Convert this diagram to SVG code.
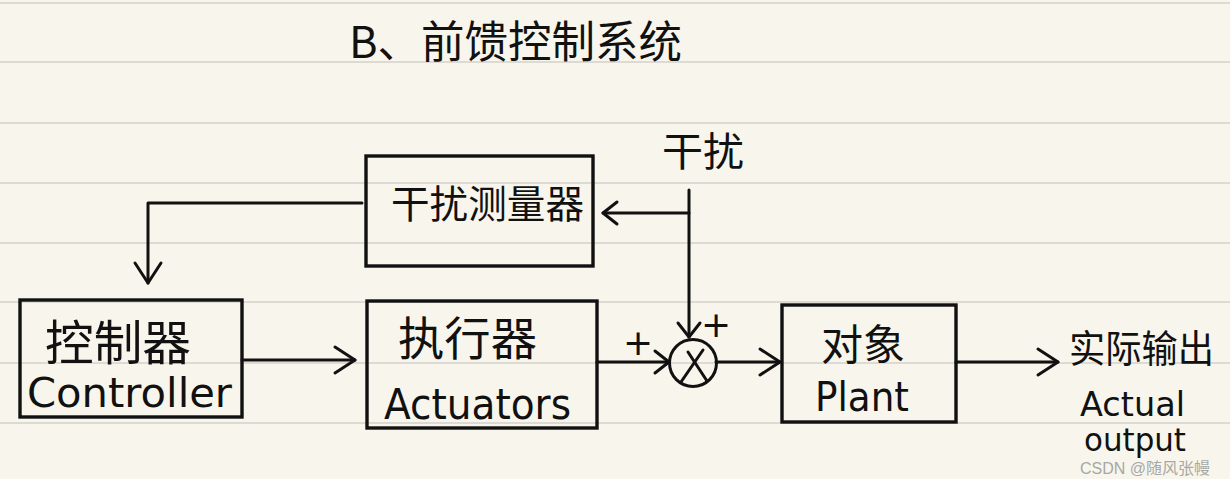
<svg xmlns="http://www.w3.org/2000/svg" width="1230" height="479" viewBox="0 0 1230 479">
  <defs>
    <style>
      .bg { fill: #f8f6ec; }
      .rule { stroke: #dcdad2; stroke-width: 2; }
      .box { fill: none; stroke: #111; stroke-width: 3.4; }
      .wire { fill: none; stroke: #111; stroke-width: 3; stroke-linecap: round; stroke-linejoin: round; }
      .zh { font-family: "Noto Sans CJK SC", "Noto Sans", sans-serif; fill: #111; }
      .en { font-family: "DejaVu Sans", "Liberation Sans", sans-serif; fill: #111; }
      .wm { font-family: "Liberation Sans", "Noto Sans CJK SC", sans-serif; fill: #9a9a9a; font-size: 16px; opacity: 0.85; }
    </style>
    <marker id="arr" markerUnits="userSpaceOnUse" markerWidth="28" markerHeight="32" viewBox="-24 -16 28 32" refX="0" refY="0" orient="auto">
      <path d="M-20,-13 L0,0 L-20,13" fill="none" stroke="#111" stroke-width="3" stroke-linecap="round" stroke-linejoin="round"/>
    </marker>
    <marker id="arrS" markerUnits="userSpaceOnUse" markerWidth="24" markerHeight="28" viewBox="-20 -14 24 28" refX="0" refY="0" orient="auto">
      <path d="M-14,-11 L0,0 L-14,11" fill="none" stroke="#111" stroke-width="3" stroke-linecap="round" stroke-linejoin="round"/>
    </marker>
  </defs>

  <g id="paper">
    <rect class="bg" x="0" y="0" width="1230" height="479"/>
    <line class="rule" x1="0" y1="3" x2="1230" y2="3"/>
    <line class="rule" x1="0" y1="62" x2="1230" y2="62"/>
    <line class="rule" x1="0" y1="123" x2="1230" y2="123"/>
    <line class="rule" x1="0" y1="183" x2="1230" y2="183"/>
    <line class="rule" x1="0" y1="243" x2="1230" y2="243"/>
    <line class="rule" x1="0" y1="302" x2="1230" y2="302"/>
    <line class="rule" x1="0" y1="363" x2="1230" y2="363"/>
    <line class="rule" x1="0" y1="423" x2="1230" y2="423"/>
  </g>

  <g id="title">
    <text class="zh" x="349" y="58" font-size="44" textLength="333" lengthAdjust="spacingAndGlyphs">B、前馈控制系统</text>
  </g>

  <g id="disturbance-label">
    <text class="zh" x="662" y="166" font-size="40" textLength="82" lengthAdjust="spacingAndGlyphs">干扰</text>
  </g>

  <g id="node-measurer">
    <rect class="box" x="366" y="156" width="227" height="110"/>
    <text class="zh" x="391" y="218" font-size="39" textLength="193" lengthAdjust="spacingAndGlyphs">干扰测量器</text>
  </g>

  <g id="node-controller">
    <rect class="box" x="20" y="300" width="222" height="117"/>
    <text class="zh" x="45" y="360" font-size="48" textLength="146" lengthAdjust="spacingAndGlyphs">控制器</text>
    <text class="en" x="27" y="407" font-size="40" textLength="205" lengthAdjust="spacingAndGlyphs">Controller</text>
  </g>

  <g id="node-actuator">
    <rect class="box" x="367" y="301" width="230" height="127"/>
    <text class="zh" x="398" y="355" font-size="46" textLength="139" lengthAdjust="spacingAndGlyphs">执行器</text>
    <text class="en" x="384" y="419" font-size="42" textLength="187" lengthAdjust="spacingAndGlyphs">Actuators</text>
  </g>

  <g id="node-sum">
    <circle cx="693" cy="363" r="23.5" fill="none" stroke="#111" stroke-width="3"/>
    <line class="wire" x1="681" y1="382" x2="703" y2="350"/>
    <line class="wire" x1="688" y1="352" x2="707" y2="381"/>
    <text class="en" x="638" y="355" font-size="36" text-anchor="middle">+</text>
    <text class="en" x="716" y="337" font-size="36" text-anchor="middle">+</text>
  </g>

  <g id="node-plant">
    <rect class="box" x="782" y="305" width="174" height="117"/>
    <text class="zh" x="821" y="360" font-size="42" textLength="84" lengthAdjust="spacingAndGlyphs">对象</text>
    <text class="en" x="815" y="411" font-size="40" textLength="94" lengthAdjust="spacingAndGlyphs">Plant</text>
  </g>

  <g id="node-output">
    <text class="zh" x="1069" y="362" font-size="38" textLength="145" lengthAdjust="spacingAndGlyphs">实际输出</text>
    <text class="en" x="1080" y="416" font-size="34" textLength="105" lengthAdjust="spacingAndGlyphs">Actual</text>
    <text class="en" x="1084" y="451" font-size="32" textLength="102" lengthAdjust="spacingAndGlyphs">output</text>
  </g>

  <g id="connectors">
    <path class="wire" d="M362,203 H148 V283" marker-end="url(#arr)"/>
    <path class="wire" d="M242,360 H355" marker-end="url(#arr)"/>
    <path class="wire" d="M597,362 H669" marker-end="url(#arrS)"/>
    <path class="wire" d="M716,362 H780" marker-end="url(#arr)"/>
    <path class="wire" d="M956,362 H1058" marker-end="url(#arr)"/>
    <path class="wire" d="M689,190 V337" marker-end="url(#arrS)"/>
    <path class="wire" d="M689,213 H603" marker-end="url(#arrS)"/>
  </g>

  <g id="watermark">
    <text class="wm" x="1080" y="474">CSDN @随风张幔</text>
  </g>
</svg>
